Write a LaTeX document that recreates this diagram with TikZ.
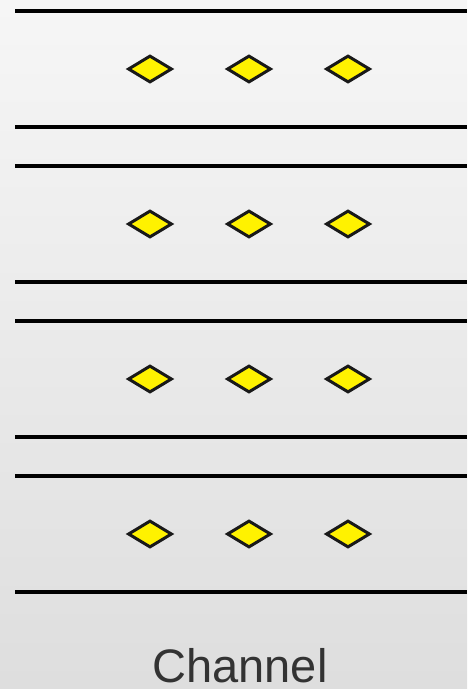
\documentclass[tikz,border=0pt]{standalone}
\usepackage{fontspec}
\setmainfont{Liberation Sans}
\usetikzlibrary{shapes.geometric}
\begin{document}
\begin{tikzpicture}[x=1pt,y=-1pt,
  sep/.style={line width=3.6pt, black},
  dot/.style={diamond, draw=black!90, line width=3pt, fill=yellow, inner sep=0pt, minimum width=44pt, minimum height=27pt},
  lbl/.style={text=black!80, font=\fontsize{47}{47}\selectfont, inner sep=0pt}]
\shade[top color=black!3.5, bottom color=black!13] (0,0) rectangle (467,689);
\useasboundingbox (0,0) rectangle (467,689);
\foreach \i/\yt in {1/11,2/166,3/321,4/476}{
  \coordinate (l\i) at (15,\yt);
  \coordinate (r\i) at (467,\yt);
  \coordinate (lb\i) at (15,\yt+116);
  \coordinate (rb\i) at (467,\yt+116);
  \draw[sep] (l\i) -- (r\i);
  \draw[sep] (lb\i) -- (rb\i);
  \node[dot] (d\i a) at (150,\yt+58) {};
  \node[dot] (d\i b) at (249,\yt+58) {};
  \node[dot] (d\i c) at (348,\yt+58) {};
}
\node[lbl, anchor=base] (ch) at (240,682) {Channel};
\end{tikzpicture}
\end{document}
